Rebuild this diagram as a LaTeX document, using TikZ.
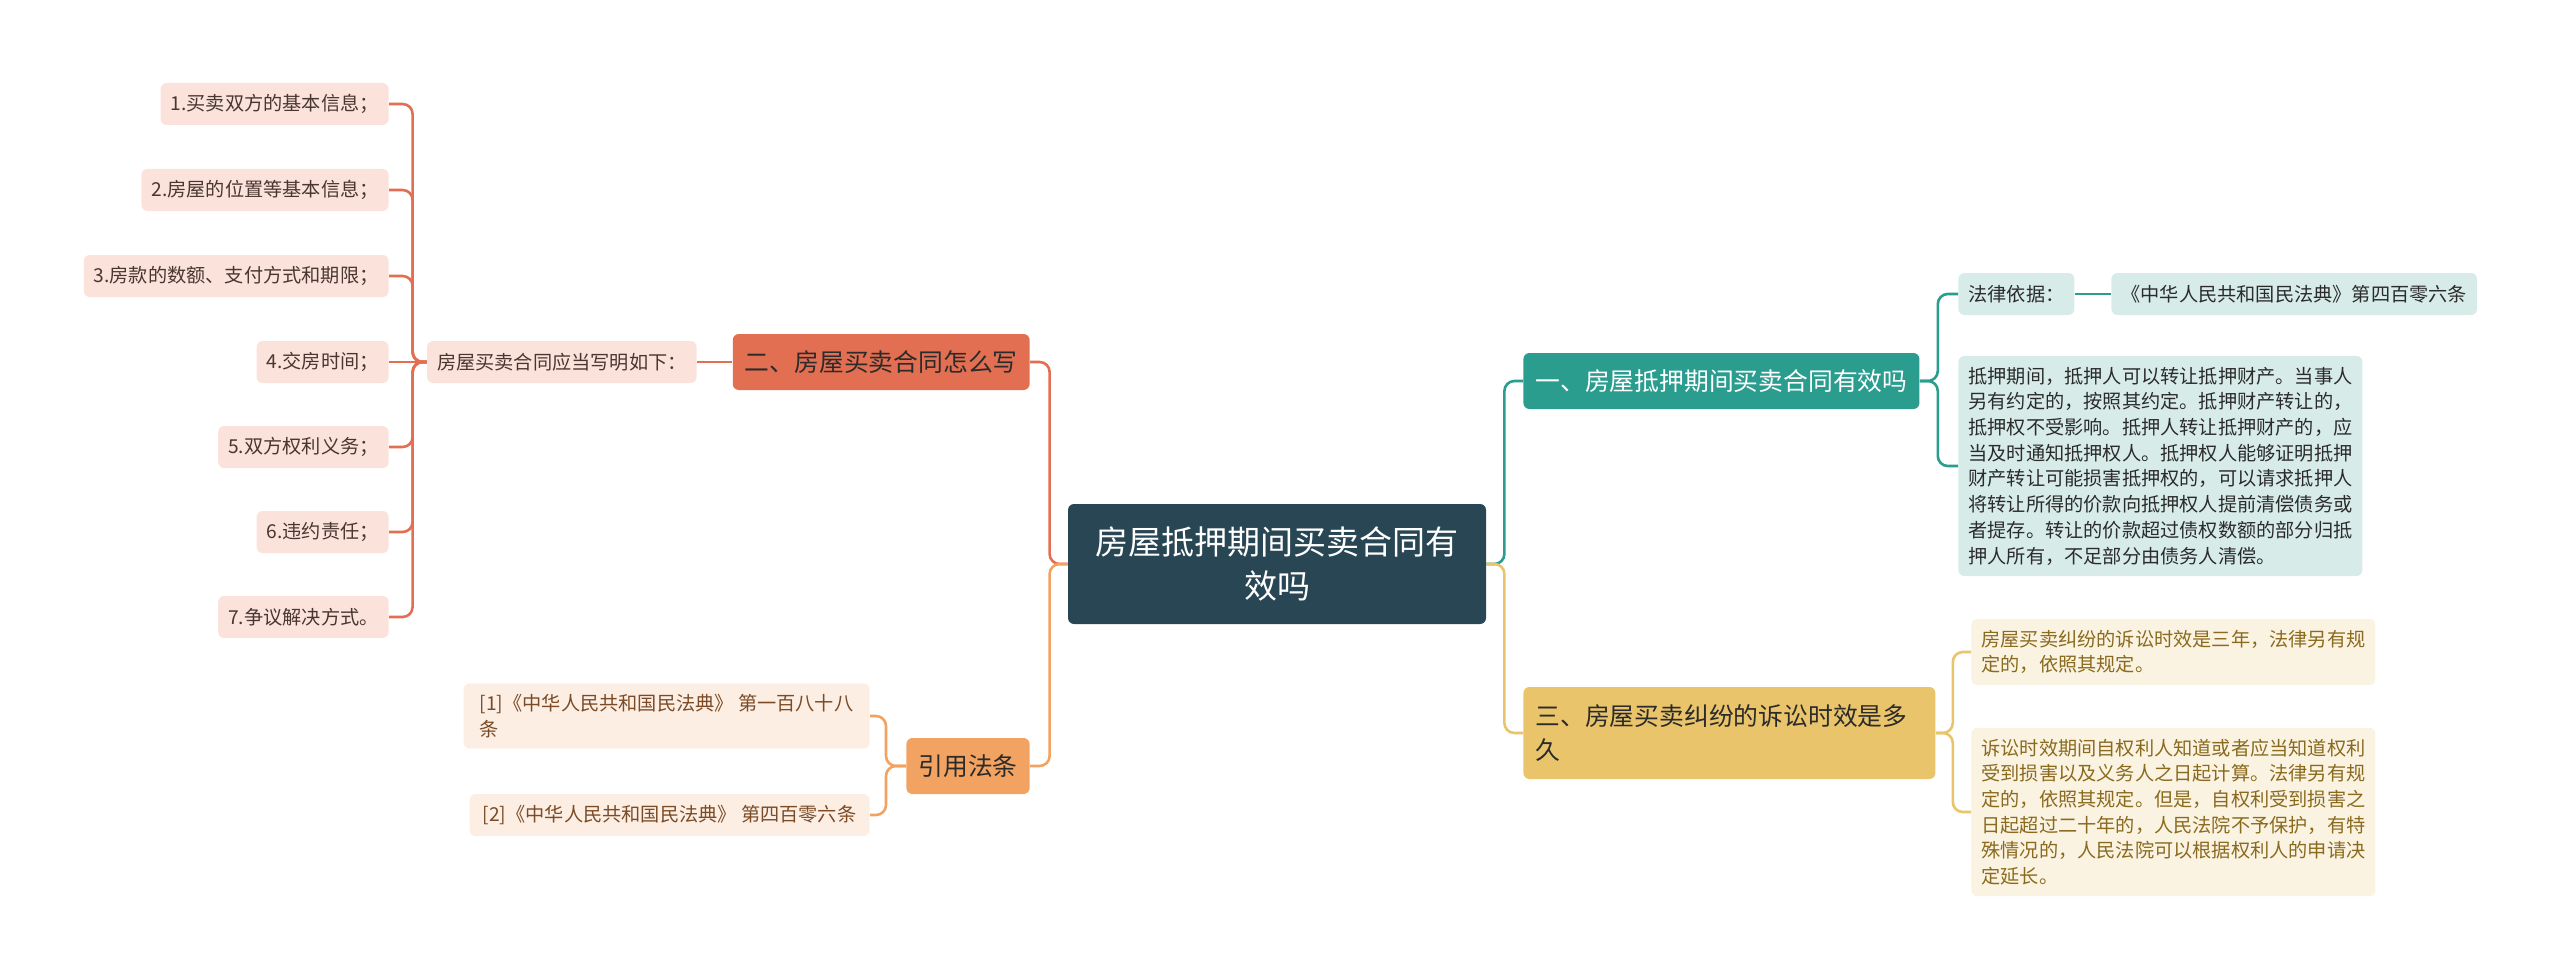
\documentclass[tikz,border=0pt]{standalone}
\usepackage{fontspec}
\setmainfont{Noto Sans CJK SC}
\definecolor{rootfill}{HTML}{284653}
\definecolor{tealc}{HTML}{2A9D8F}
\definecolor{tealsoft}{HTML}{D7ECE9}
\definecolor{redc}{HTML}{E36F52}
\definecolor{redsoft}{HTML}{FBE3DC}
\definecolor{orangec}{HTML}{F2A261}
\definecolor{orangesoft}{HTML}{FDEEE3}
\definecolor{goldc}{HTML}{E9C46A}
\definecolor{goldsoft}{HTML}{FBF3E1}
\definecolor{inkdark}{HTML}{2B2B2B}
\definecolor{inkred}{HTML}{4A3631}
\definecolor{inkbrown}{HTML}{7A4B26}
\definecolor{inkgold}{HTML}{8A6A1E}
\begin{document}
\begin{tikzpicture}[x=0.5pt,y=-0.5pt,
  rootbox/.style={fill=rootfill, rounded corners=3pt, text=white, align=center,
    minimum width=209pt, minimum height=60pt, font=\fontsize{16.5}{22}\selectfont},
  branchbox/.style={rounded corners=3pt, inner xsep=6pt, minimum height=28pt,
    font=\fontsize{12.4}{17}\selectfont},
  leafbox/.style={rounded corners=3pt, inner xsep=5pt, inner ysep=5.5pt,
    minimum height=21pt, align=left, font=\fontsize{9.6}{12.85}\selectfont},
  wire/.style={line width=1.3pt, rounded corners=5pt},
]
\useasboundingbox (0,0) rectangle (2560,979);

% centre and main branches
\node[rootbox] (root) at (1277,564) {房屋抵押期间买卖合同有\\效吗};
\node[branchbox, fill=redc, text=inkdark, anchor=east] (how) at (1030,362) {二、房屋买卖合同怎么写};
\node[branchbox, fill=orangec, text=inkdark, anchor=east] (cite) at (1030,766) {引用法条};
\node[branchbox, fill=tealc, text=white, anchor=west] (valid) at (1523,381) {一、房屋抵押期间买卖合同有效吗};
\node[branchbox, fill=goldc, text=inkdark, anchor=west, text width=194pt, align=left,
  minimum height=46pt] (limit) at (1523,733) {三、房屋买卖纠纷的诉讼时效是多\\久};

% contract contents
\node[leafbox, fill=redsoft, text=inkred, anchor=east] (howlist) at (697,362) {房屋买卖合同应当写明如下：};
\node[leafbox, fill=redsoft, text=inkred, anchor=east] (item1) at (389,104) {1.买卖双方的基本信息；};
\node[leafbox, fill=redsoft, text=inkred, anchor=east] (item2) at (389,190) {2.房屋的位置等基本信息；};
\node[leafbox, fill=redsoft, text=inkred, anchor=east] (item3) at (389,276) {3.房款的数额、支付方式和期限；};
\node[leafbox, fill=redsoft, text=inkred, anchor=east] (item4) at (389,362) {4.交房时间；};
\node[leafbox, fill=redsoft, text=inkred, anchor=east] (item5) at (389,447) {5.双方权利义务；};
\node[leafbox, fill=redsoft, text=inkred, anchor=east] (item6) at (389,532) {6.违约责任；};
\node[leafbox, fill=redsoft, text=inkred, anchor=east] (item7) at (389,617) {7.争议解决方式。};

% cited articles
\node[leafbox, fill=orangesoft, text=inkbrown, anchor=east, minimum width=203pt] (ref1) at (870,716) {[1]《中华人民共和国民法典》 第一百八十八\\条};
\node[leafbox, fill=orangesoft, text=inkbrown, anchor=east, minimum width=200pt] (ref2) at (870,815) {[2]《中华人民共和国民法典》 第四百零六条};

% validity
\node[leafbox, fill=tealsoft, text=inkdark, anchor=west] (basis) at (1958,294) {法律依据：};
\node[leafbox, fill=tealsoft, text=inkdark, anchor=west] (code) at (2111,294) {《中华人民共和国民法典》第四百零六条};
\node[leafbox, fill=tealsoft, text=inkdark, anchor=west] (rule) at (1958,466) {抵押期间，抵押人可以转让抵押财产。当事人\\另有约定的，按照其约定。抵押财产转让的，\\抵押权不受影响。抵押人转让抵押财产的，应\\当及时通知抵押权人。抵押权人能够证明抵押\\财产转让可能损害抵押权的，可以请求抵押人\\将转让所得的价款向抵押权人提前清偿债务或\\者提存。转让的价款超过债权数额的部分归抵\\押人所有，不足部分由债务人清偿。};

% limitation period
\node[leafbox, fill=goldsoft, text=inkgold, anchor=west] (term) at (1971,652) {房屋买卖纠纷的诉讼时效是三年，法律另有规\\定的，依照其规定。};
\node[leafbox, fill=goldsoft, text=inkgold, anchor=west] (termrule) at (1971,812) {诉讼时效期间自权利人知道或者应当知道权利\\受到损害以及义务人之日起计算。法律另有规\\定的，依照其规定。但是，自权利受到损害之\\日起超过二十年的，人民法院不予保护，有特\\殊情况的，人民法院可以根据权利人的申请决\\定延长。};

% connectors
\draw[wire, redc] (root.west) -- ++(-18,0) |- (how.east);
\draw[wire, orangec] (root.west) -- ++(-18,0) |- (cite.east);
\draw[wire, tealc] (root.east) -- ++(18,0) |- (valid.west);
\draw[wire, goldc] (root.east) -- ++(18,0) |- (limit.west);
\draw[wire, redc] (how.west) -- (howlist.east);
\draw[wire, redc] (howlist.west) -- ++(-14,0) |- (item1.east);
\draw[wire, redc] (howlist.west) -- ++(-14,0) |- (item2.east);
\draw[wire, redc] (howlist.west) -- ++(-14,0) |- (item3.east);
\draw[wire, redc] (howlist.west) -- (item4.east);
\draw[wire, redc] (howlist.west) -- ++(-14,0) |- (item5.east);
\draw[wire, redc] (howlist.west) -- ++(-14,0) |- (item6.east);
\draw[wire, redc] (howlist.west) -- ++(-14,0) |- (item7.east);
\draw[wire, orangec] (cite.west) -- ++(-20,0) |- (ref1.east);
\draw[wire, orangec] (cite.west) -- ++(-20,0) |- (ref2.east);
\draw[wire, tealc] (valid.east) -- ++(18,0) |- (basis.west);
\draw[wire, tealc] (valid.east) -- ++(18,0) |- (rule.west);
\draw[wire, tealc] (basis.east) -- (code.west);
\draw[wire, goldc] (limit.east) -- ++(17,0) |- (term.west);
\draw[wire, goldc] (limit.east) -- ++(17,0) |- (termrule.west);
\end{tikzpicture}
\end{document}
